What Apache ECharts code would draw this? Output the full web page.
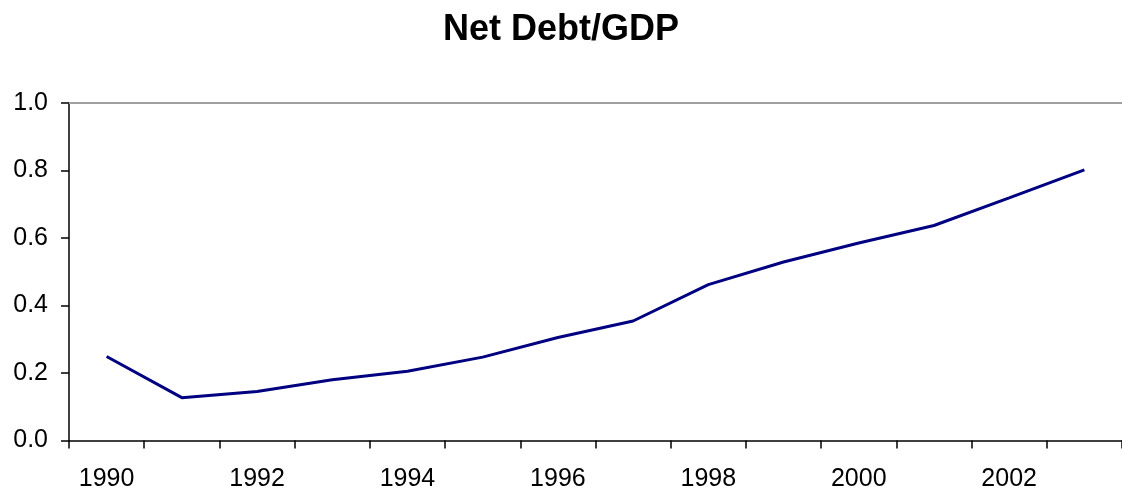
<!DOCTYPE html>
<html>
<head>
<meta charset="utf-8">
<script src="https://cdn.jsdelivr.net/npm/echarts@6/dist/echarts.min.js"></script>
<style>
  html, body { margin: 0; padding: 0; background: #fff; }
  #chart { width: 1122px; height: 500px; }
</style>
</head>
<body>
<div id="chart"></div>
<script>
// Net debt as a share of GDP, by year
const years = ['1990','1991','1992','1993','1994','1995','1996','1997','1998','1999','2000','2001','2002','2003'];
const netDebtToGdp = [0.249, 0.127, 0.145, 0.180, 0.205, 0.247, 0.305, 0.354, 0.462, 0.529, 0.585, 0.637, 0.719, 0.802];
const yTicks = { min: 0, max: 1, step: 0.2 };

const FONT = '"Liberation Sans", Arial, Helvetica, sans-serif';
const chart = echarts.init(document.getElementById('chart'), null, { renderer: 'canvas' });

chart.setOption({
  animation: false,
  backgroundColor: '#ffffff',
  title: {
    text: 'Net Debt/GDP',
    left: 'center',
    top: 7,
    textStyle: { fontFamily: FONT, fontSize: 36, fontWeight: 'bold', color: '#000' }
  },
  grid: {
    left: 69,
    top: 103,
    width: 1054,
    height: 337.5
  },
  xAxis: [{
    type: 'category',
    data: years,
    boundaryGap: true,
    axisLine: { lineStyle: { color: '#000', width: 1.5 } },
    axisTick: { show: true, interval: 0, length: 8, lineStyle: { color: '#000', width: 1.5 } },
    axisLabel: {
      interval: 1,
      margin: 26,
      fontFamily: FONT,
      fontSize: 25,
      color: '#000'
    },
    splitLine: { show: false }
  }, {
    // plot-area top edge
    type: 'category',
    data: years,
    position: 'top',
    axisLine: { lineStyle: { color: '#a0a0a0', width: 2 } },
    axisTick: { show: false },
    axisLabel: { show: false },
    splitLine: { show: false }
  }],
  yAxis: {
    type: 'value',
    min: yTicks.min,
    max: yTicks.max,
    interval: yTicks.step,
    axisLine: { show: true, lineStyle: { color: '#000', width: 1.5 } },
    axisTick: { show: true, length: 8, lineStyle: { color: '#000', width: 1.5 } },
    axisLabel: {
      margin: 21,
      fontFamily: FONT,
      fontSize: 25,
      color: '#000',
      formatter: v => v.toFixed(1)
    },
    splitLine: { show: false }
  },
  series: [{
    type: 'line',
    data: netDebtToGdp,
    symbol: 'none',
    lineStyle: { color: '#000080', width: 3 },
    itemStyle: { color: '#000080' }
  }]
});
</script>
</body>
</html>
